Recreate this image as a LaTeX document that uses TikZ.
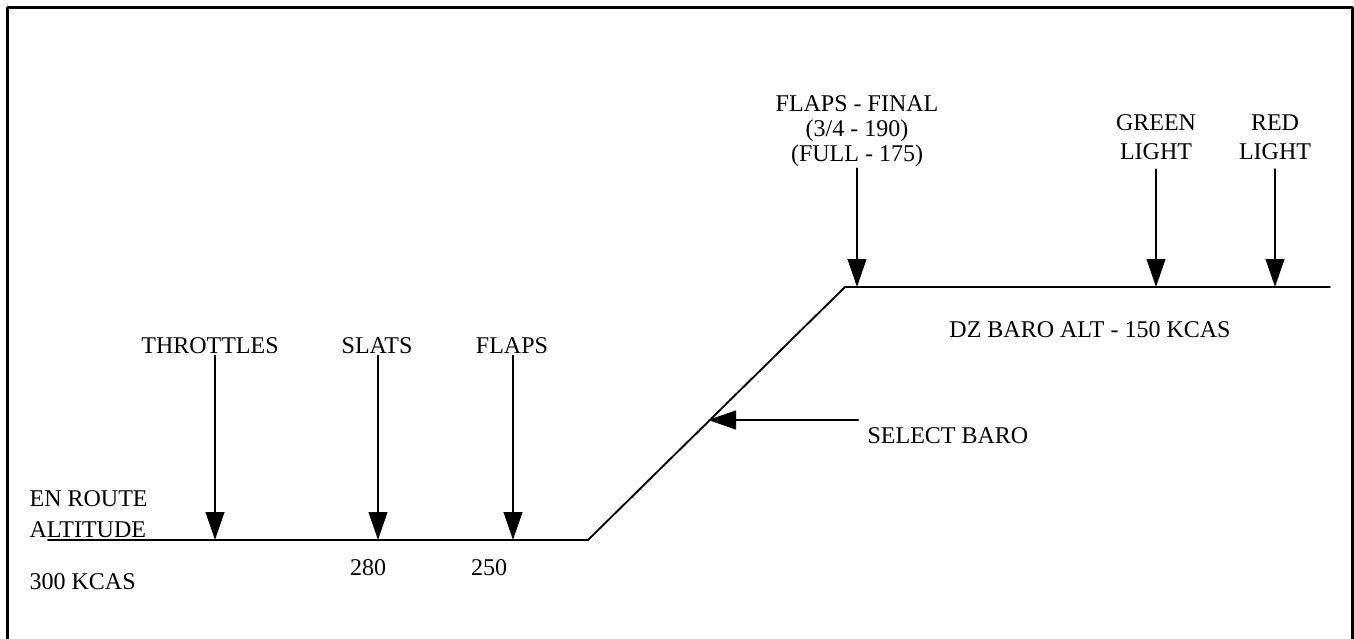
\documentclass[tikz,border=0pt]{standalone}
\usepackage{fontspec}
\setmainfont{Liberation Serif}
\usetikzlibrary{arrows.meta}

\begin{document}
\begin{tikzpicture}[x=0.75pt, y=-0.75pt, line cap=round, line join=round,
    lbl/.style={inner sep=1pt, font=\fontsize{18}{19}\selectfont, align=center},
    cue/.style={-{Triangle[width=14pt,length=21pt]}, line width=1.5pt},
    profile/.style={line width=1.4pt}]
    \useasboundingbox (0,0) rectangle (1354,639);

    % frame (open at the bottom)
    \draw[line width=2.25pt, line cap=butt] (7,650) -- (7,7) -- (1352,7) -- (1352,650);

    % flight profile
    \coordinate (low0)  at (48,540);
    \coordinate (low1)  at (588,540);
    \coordinate (high0) at (845,287);
    \coordinate (high1) at (1330,287);
    \draw[profile] (low0) -- (low1) -- (high0) -- (high1);

    % points on the profile
    \coordinate (thrtip)   at (215,540);
    \coordinate (slatstip) at (378,540);
    \coordinate (flapstip) at (513,540);
    \coordinate (finaltip) at (857,287);
    \coordinate (greentip) at (1156,287);
    \coordinate (redtip)   at (1275,287);
    \coordinate (seltip)   at (708,420);
    \coordinate (seltail)  at (858,420);

    % labels
    \node[lbl] (thr)   at (210,346) {THROTTLES};
    \node[lbl] (slats) at (377,346) {SLATS};
    \node[lbl] (flaps) at (512,346) {FLAPS};
    \node[lbl] (final) at (857,131) {FLAPS - FINAL\\(3/4 - 190)\\(FULL - 175)};
    \node[lbl, font=\fontsize{18}{22}\selectfont] (green) at (1156,137) {GREEN\\LIGHT};
    \node[lbl, font=\fontsize{18}{22}\selectfont] (red)   at (1275,137) {RED\\LIGHT};
    \node[lbl, anchor=west] (selbaro) at (866,436) {SELECT BARO};
    \node[lbl] (dz) at (1090,330) {DZ BARO ALT - 150 KCAS};
    \node[lbl, align=left, anchor=west, font=\fontsize{18}{23}\selectfont] (enroute) at (28,514) {EN ROUTE\\ALTITUDE};
    \node[lbl, anchor=west] (kcas) at (28,582) {300 KCAS};
    \node[lbl] (v280) at (368,568) {280};
    \node[lbl] (v250) at (489,568) {250};

    % event arrows
    \draw[cue] (thr.south -| thrtip) -- (thrtip);
    \draw[cue] (slats.south -| slatstip) -- (slatstip);
    \draw[cue] (flaps.south -| flapstip) -- (flapstip);
    \draw[cue] (final.south -| finaltip) -- (finaltip);
    \draw[cue, shorten <=6pt] (green.south -| greentip) -- (greentip);
    \draw[cue, shorten <=6pt] (red.south -| redtip) -- (redtip);
    \draw[cue] (seltail) -- (seltip);
\end{tikzpicture}
\end{document}
